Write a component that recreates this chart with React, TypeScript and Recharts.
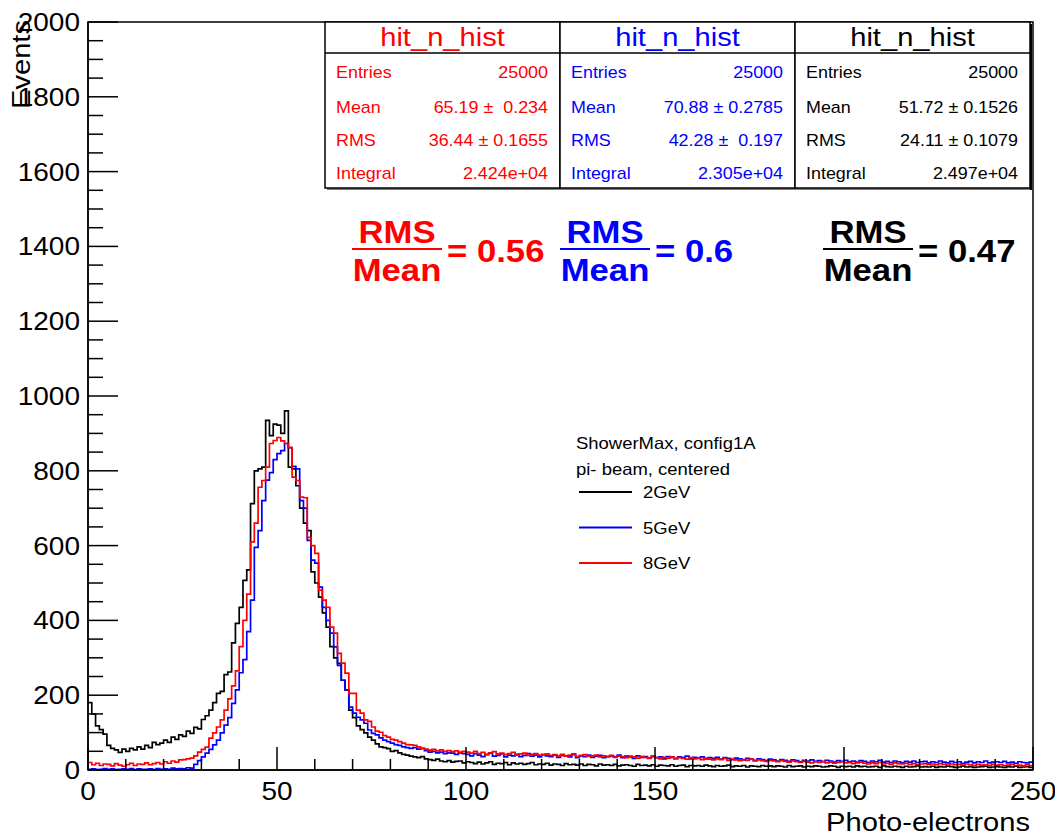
import React from 'react';
import { LineChart, Line, XAxis, YAxis } from 'recharts';

// Histogram bin contents, bins of width 1 photo-electron from 0 to 250
const gev2Counts = [
  180,150,118,108,96,66,58,54,47,56,
  50,58,54,62,56,66,60,74,68,72,
  80,74,88,82,94,90,104,98,114,110,
  135,145,160,180,205,210,255,262,340,392,
  435,507,535,712,800,805,810,935,894,925,
  922,900,960,810,805,760,700,660,640,530,
  500,462,420,382,330,300,285,240,214,160,
  140,118,108,99,88,80,70,62,60,57,
  50,52,46,42,40,37,35,33,36,30,
  28,26,29,24,22,25,21,23,24,19,
  22,
  20,17,21,16,19,22,15,18,17,20,14,19,16,18,15,17,20,14,16,15,
  18,13,16,15,12,17,14,15,13,16,12,15,14,11,16,13,14,12,15,11,
  13,14,12,10,15,12,13,11,14,10,13,12,11,14,10,12,13,9,12,11,
  12,10,13,11,9,12,10,11,13,9,11,10,12,8,11,10,9,12,10,11,
  9,11,10,8,12,9,10,11,8,10,9,11,10,8,9,11,10,7,10,9,
  10,8,11,9,10,8,9,10,7,11,9,8,10,9,7,10,8,9,11,8,
  9,8,10,7,9,8,10,9,7,8,10,8,9,7,8,9,10,7,8,9,
  8,7,9,8,10,7,8,9,7,
];

const gev5Counts = [
  2,3,1,2,4,2,3,1,2,3,2,4,1,3,2,2,3,1,4,2,3,2,5,3,4,3,6,
  5,15,25,35,45,55,67,80,99,120,140,178,214,260,295,370,454,595,640,720,
  775,795,830,846,854,873,862,812,805,720,700,614,561,553,489,435,400,366,329,280,
  240,214,168,152,141,134,125,107,98,94,86,80,76,72,68,66,62,60,58,60,
  56,58,52,48,50,46,48,44,46,45,42,46,44,
  42,38,44,40,36,41,45,37,39,43,35,40,38,42,36,39,44,37,40,35,41,
  38,36,40,34,39,37,35,41,33,38,36,40,34,37,39,33,36,38,35,40,
  33,37,35,31,38,34,36,32,37,33,35,30,36,34,31,35,33,37,30,34,
  32,35,30,33,31,34,29,33,31,28,32,30,27,31,29,26,30,28,25,29,
  27,24,28,26,23,27,25,22,26,24,27,23,25,22,26,24,21,25,23,26,
  22,24,21,25,23,20,24,22,26,21,23,20,24,22,19,23,21,24,20,22,
  23,19,22,20,24,21,19,23,20,22,18,21,23,19,22,20,24,19,21,22,
  20,23,19,21,18,22,20,19,21,
];

const gev8Counts = [
  20,14,18,12,16,15,11,17,13,10,14,18,12,16,15,19,14,17,20,16,22,18,24,21,
  27,28,30,32,38,48,55,61,85,99,115,134,160,190,225,265,330,400,470,610,
  660,756,774,810,873,881,889,880,873,862,783,774,730,728,622,600,579,481,454,435,
  382,366,312,286,259,205,205,160,152,134,130,115,104,101,92,88,82,80,76,72,
  68,67,66,62,58,56,53,55,51,54,50,52,49,51,48,50,
  48,45,50,44,47,42,46,49,43,45,41,44,47,40,43,45,39,42,44,40,41,
  43,39,41,38,42,37,40,43,36,39,41,37,38,40,35,38,36,39,34,37,
  36,33,37,35,32,36,34,31,35,33,30,34,32,35,30,33,31,29,33,30,
  31,28,32,29,27,30,28,31,26,29,27,25,28,26,29,24,27,25,23,26,
  24,22,25,23,21,24,22,20,23,21,19,22,20,23,19,21,18,20,22,19,
  20,17,19,21,18,16,19,17,20,16,18,15,19,17,16,18,15,17,14,16,
  17,15,16,14,17,15,13,16,14,15,13,16,14,12,15,13,14,12,15,13,
  14,12,13,15,12,13,11,14,12,
];

const xTicks = [0,10,20,30,40,50,60,70,80,90,100,110,120,130,140,150,160,170,180,190,200,210,220,230,240,250];
const xLabelTicks = [0,50,100,150,200,250];
const yTicks = [0,50,100,150,200,250,300,350,400,450,500,550,600,650,700,750,800,850,900,950,1000,1050,1100,1150,1200,1250,1300,1350,1400,1450,1500,1550,1600,1650,1700,1750,1800,1850,1900,1950,2000];
const yLabelTicks = [0,200,400,600,800,1000,1200,1400,1600,1800,2000];

const statBoxes = [
  { color: '#ff0000', title: 'hit_n_hist', entries: '25000', mean: '65.19 \u00b1  0.234', rms: '36.44 \u00b1 0.1655', integral: '2.424e+04' },
  { color: '#0000ff', title: 'hit_n_hist', entries: '25000', mean: '70.88 \u00b1 0.2785', rms: '42.28 \u00b1  0.197', integral: '2.305e+04' },
  { color: '#000000', title: 'hit_n_hist', entries: '25000', mean: '51.72 \u00b1 0.1526', rms: '24.11 \u00b1 0.1079', integral: '2.497e+04' },
];

const ratios = [
  { color: '#ff0000', value: '= 0.56' },
  { color: '#0000ff', value: '= 0.6' },
  { color: '#000000', value: '= 0.47' },
];

const legendHeader = ['ShowerMax, config1A', 'pi- beam, centered'];
const legendItems = [
  { label: '2GeV', color: '#000000' },
  { label: '5GeV', color: '#0000ff' },
  { label: '8GeV', color: '#ff0000' },
];

const data = Array.from({ length: 251 }, (_, i) => {
  const j = Math.min(i, 249);
  return { x: i, black: gev2Counts[j] ?? 0, blue: gev5Counts[j] ?? 0, red: gev8Counts[j] ?? 0 };
});

const FONT = '"Liberation Sans", Arial, Helvetica, sans-serif';
const SX = 1.12;

function T(props: any) {
  const { x, y, size, anchor = 'start', color = '#000', bold = false, rotate = 0, children } = props;
  const rot = rotate ? ` rotate(${rotate})` : '';
  return (
    <text
      transform={`translate(${x} ${y})${rot} scale(${SX} 1)`}
      fontSize={size}
      textAnchor={anchor}
      fill={color}
      fontWeight={bold ? 'bold' : 'normal'}
      fontFamily={FONT}
      style={{ whiteSpace: 'pre' }}
    >
      {children}
    </text>
  );
}

function YTick(props: any) {
  const { x, y, payload } = props;
  const v = payload.value;
  const major = yLabelTicks.includes(v);
  return (
    <g>
      <line x1={x} x2={x + (major ? 30 : 15)} y1={y} y2={y} stroke="#000" strokeWidth={1.5} />
      {major && (
        <T x={x - 8} y={y + 9} size={25} anchor="end">
          {v}
        </T>
      )}
    </g>
  );
}

function XTick(props: any) {
  const { x, y, payload } = props;
  const v = payload.value;
  const major = xLabelTicks.includes(v);
  return (
    <g>
      <line x1={x} x2={x} y1={y} y2={y - (major ? 23 : 11)} stroke="#000" strokeWidth={1.5} />
      {major && (
        <T x={x} y={y + 30} size={25} anchor="middle">
          {v}
        </T>
      )}
    </g>
  );
}

export default function App() {
  const boxX = [325, 560, 795, 1030];
  const rowY = [78, 113, 146, 179];
  const ratioCenters = [397, 605, 868];
  return (
    <div style={{ position: 'relative', width: 1055, height: 837, background: '#fff' }}>
      <style>{'body{margin:0;background:#fff}'}</style>
      <LineChart width={1055} height={837} data={data} margin={{ top: 22, right: 22, bottom: 0, left: 0 }}>
        <XAxis
          type="number"
          dataKey="x"
          domain={[0, 250]}
          ticks={xTicks}
          interval={0}
          tickSize={0}
          tickMargin={0}
          tickLine={false}
          tick={(p: any) => <XTick {...p} />}
          height={67}
          axisLine={{ stroke: '#000', strokeWidth: 1.5 }}
          allowDataOverflow
        />
        <YAxis
          type="number"
          domain={[0, 2000]}
          ticks={yTicks}
          interval={0}
          tickSize={0}
          tickMargin={0}
          tickLine={false}
          tick={(p: any) => <YTick {...p} />}
          width={88}
          axisLine={{ stroke: '#000', strokeWidth: 1.5 }}
          allowDataOverflow
        />
        <Line type="stepAfter" dataKey="black" stroke="#000000" strokeWidth={1.7} dot={false} isAnimationActive={false} />
        <Line type="stepAfter" dataKey="blue" stroke="#0000ff" strokeWidth={1.7} dot={false} isAnimationActive={false} />
        <Line type="stepAfter" dataKey="red" stroke="#ff0000" strokeWidth={1.7} dot={false} isAnimationActive={false} />
      </LineChart>
      <svg
        width={1055}
        height={837}
        style={{ position: 'absolute', left: 0, top: 0, pointerEvents: 'none' }}
      >
        {/* frame */}
        <rect x={88} y={22} width={945} height={748} fill="none" stroke="#000" strokeWidth={1.5} />
        {/* axis titles */}
        <T x={30} y={20} size={26} anchor="end" rotate={-90}>Events</T>
        <T x={1030} y={831} size={26} anchor="end">Photo-electrons</T>
        {/* stat boxes */}
        {statBoxes.map((b, i) => {
          const x0 = boxX[i];
          const x1 = boxX[i + 1];
          const rows = [
            ['Entries', b.entries],
            ['Mean', b.mean],
            ['RMS', b.rms],
            ['Integral', b.integral],
          ];
          return (
            <g key={i}>
              <rect x={x0} y={22} width={x1 - x0} height={166} fill="#fff" stroke="#000" strokeWidth={1.5} />
              <line x1={x0} x2={x1} y1={53} y2={53} stroke="#000" strokeWidth={1.5} />
              <T x={(x0 + x1) / 2} y={46} size={26} anchor="middle" color={b.color}>{b.title}</T>
              {rows.map((r, k) => (
                <g key={k}>
                  <T x={x0 + 11} y={rowY[k]} size={16} color={b.color}>{r[0]}</T>
                  <T x={x1 - 12} y={rowY[k]} size={16} anchor="end" color={b.color}>{r[1]}</T>
                </g>
              ))}
            </g>
          );
        })}
        <line x1={1031} x2={1031} y1={24} y2={190} stroke="#000" strokeWidth={2} />
        <line x1={327} x2={1031} y1={189} y2={189} stroke="#000" strokeWidth={1} />
        {/* RMS / Mean ratios */}
        {ratios.map((r, i) => {
          const cx = ratioCenters[i];
          return (
            <g key={i}>
              <T x={cx} y={243} size={31} bold anchor="middle" color={r.color}>RMS</T>
              <line x1={cx - 45} x2={cx + 45} y1={249} y2={249} stroke={r.color} strokeWidth={2} />
              <T x={cx} y={281} size={31} bold anchor="middle" color={r.color}>Mean</T>
              <T x={cx + 50} y={262} size={31} bold color={r.color}>{r.value}</T>
            </g>
          );
        })}
        {/* legend */}
        <T x={576} y={449} size={16.5}>{legendHeader[0]}</T>
        <T x={576} y={475} size={16.5}>{legendHeader[1]}</T>
        {legendItems.map((l, i) => (
          <g key={i}>
            <line x1={579} x2={632} y1={492 + i * 35.5} y2={492 + i * 35.5} stroke={l.color} strokeWidth={2} />
            <T x={643} y={498 + i * 35.5} size={16.5}>{l.label}</T>
          </g>
        ))}
      </svg>
    </div>
  );
}
